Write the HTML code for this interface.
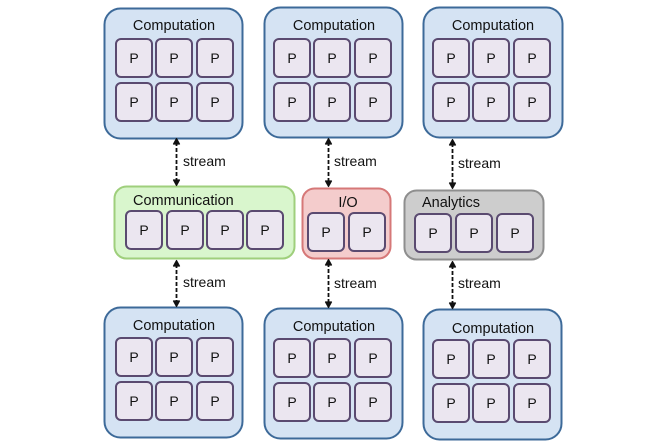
<!DOCTYPE html>
<html><head><meta charset="utf-8"><style>
html,body{margin:0;padding:0;background:#fff;}
svg{display:block;}
text{font-family:"Liberation Sans",sans-serif;fill:#111;}
.comp{fill:#d5e3f3;stroke:#3d6a99;stroke-width:2;}
.p{fill:#ebe6f0;stroke:#5a4a70;stroke-width:2;}
.pt{font-size:14px;text-anchor:middle;}
.tt{font-size:14.5px;text-anchor:middle;}
.st{font-size:14px;}
.ar{stroke:#111;stroke-width:1.8;stroke-dasharray:4,2;fill:none;}
.ah{stroke:#111;stroke-width:1.2;fill:#111;stroke-linejoin:round;}
</style></head><body>
<svg width="669" height="448" viewBox="0 0 669 448" xmlns="http://www.w3.org/2000/svg">
<defs>
<g id="p"><rect x="0" y="0" width="36" height="38" rx="5" class="p"/><text x="18" y="24" class="pt">P</text></g>
<g id="grid">
<use href="#p" x="0" y="0"/><use href="#p" x="40" y="0"/><use href="#p" x="81" y="0"/>
<use href="#p" x="0" y="44"/><use href="#p" x="40" y="44"/><use href="#p" x="81" y="44"/>
</g>
</defs>

<!-- top row -->
<rect x="104.5" y="8.5" width="138" height="130" rx="16" class="comp"/>
<text x="174" y="30" class="tt">Computation</text>
<use href="#grid" x="116" y="39"/>

<rect x="264.5" y="7.5" width="138" height="130" rx="16" class="comp"/>
<text x="334" y="30" class="tt">Computation</text>
<use href="#grid" x="274" y="39"/>

<rect x="423.5" y="7.5" width="139" height="130" rx="16" class="comp"/>
<text x="493" y="30" class="tt">Computation</text>
<use href="#grid" x="433" y="39"/>

<!-- bottom row -->
<rect x="104.5" y="307.5" width="138" height="130" rx="16" class="comp"/>
<text x="174" y="330" class="tt">Computation</text>
<use href="#grid" x="116" y="338"/>

<rect x="264.5" y="308.5" width="138" height="130" rx="16" class="comp"/>
<text x="334" y="331" class="tt">Computation</text>
<use href="#grid" x="274" y="339"/>

<rect x="423.5" y="309.5" width="138" height="130" rx="16" class="comp"/>
<text x="493" y="333" class="tt">Computation</text>
<use href="#grid" x="433" y="340"/>

<!-- middle row -->
<rect x="114.5" y="186.5" width="180" height="72" rx="12" fill="#d9f6cd" stroke="#9fcf7c" stroke-width="2"/>
<text x="133" y="205" class="tt" style="text-anchor:start">Communication</text>
<use href="#p" x="126" y="211"/><use href="#p" x="167" y="211"/><use href="#p" x="207" y="211"/><use href="#p" x="247" y="211"/>

<rect x="302.5" y="188.5" width="88" height="70" rx="12" fill="#f4cccc" stroke="#d67878" stroke-width="2"/>
<text x="348" y="207" class="tt">I/O</text>
<use href="#p" x="308" y="213"/><use href="#p" x="349" y="213"/>

<rect x="404.5" y="190.5" width="139" height="69" rx="12" fill="#cdcdcd" stroke="#8e8e8e" stroke-width="2"/>
<text x="422" y="207" class="tt" style="text-anchor:start">Analytics</text>
<use href="#p" x="415" y="214"/><use href="#p" x="456" y="214"/><use href="#p" x="497" y="214"/>

<!-- arrows -->
<g>
<line x1="176.5" y1="142" x2="176.5" y2="182" class="ar"/>
<path d="M173.5,144 L176.5,138.5 L179.5,144 Z" class="ah"/>
<path d="M173.5,180 L176.5,185.5 L179.5,180 Z" class="ah"/>
<text x="183" y="166" class="st">stream</text>

<line x1="176.5" y1="264" x2="176.5" y2="303" class="ar"/>
<path d="M173.5,266 L176.5,260.5 L179.5,266 Z" class="ah"/>
<path d="M173.5,301 L176.5,306.5 L179.5,301 Z" class="ah"/>
<text x="183" y="287" class="st">stream</text>

<line x1="328.5" y1="142" x2="328.5" y2="183" class="ar"/>
<path d="M325.5,144 L328.5,138.5 L331.5,144 Z" class="ah"/>
<path d="M325.5,181 L328.5,186.5 L331.5,181 Z" class="ah"/>
<text x="334" y="166" class="st">stream</text>

<line x1="328.5" y1="263" x2="328.5" y2="304" class="ar"/>
<path d="M325.5,265 L328.5,259.5 L331.5,265 Z" class="ah"/>
<path d="M325.5,302 L328.5,307.5 L331.5,302 Z" class="ah"/>
<text x="334" y="288" class="st">stream</text>

<line x1="452.5" y1="143" x2="452.5" y2="185" class="ar"/>
<path d="M449.5,145 L452.5,139.5 L455.5,145 Z" class="ah"/>
<path d="M449.5,183 L452.5,188.5 L455.5,183 Z" class="ah"/>
<text x="458" y="168" class="st">stream</text>

<line x1="452.5" y1="265" x2="452.5" y2="305" class="ar"/>
<path d="M449.5,267 L452.5,261.5 L455.5,267 Z" class="ah"/>
<path d="M449.5,303 L452.5,308.5 L455.5,303 Z" class="ah"/>
<text x="458" y="288" class="st">stream</text>
</g>
</svg>
</body></html>
